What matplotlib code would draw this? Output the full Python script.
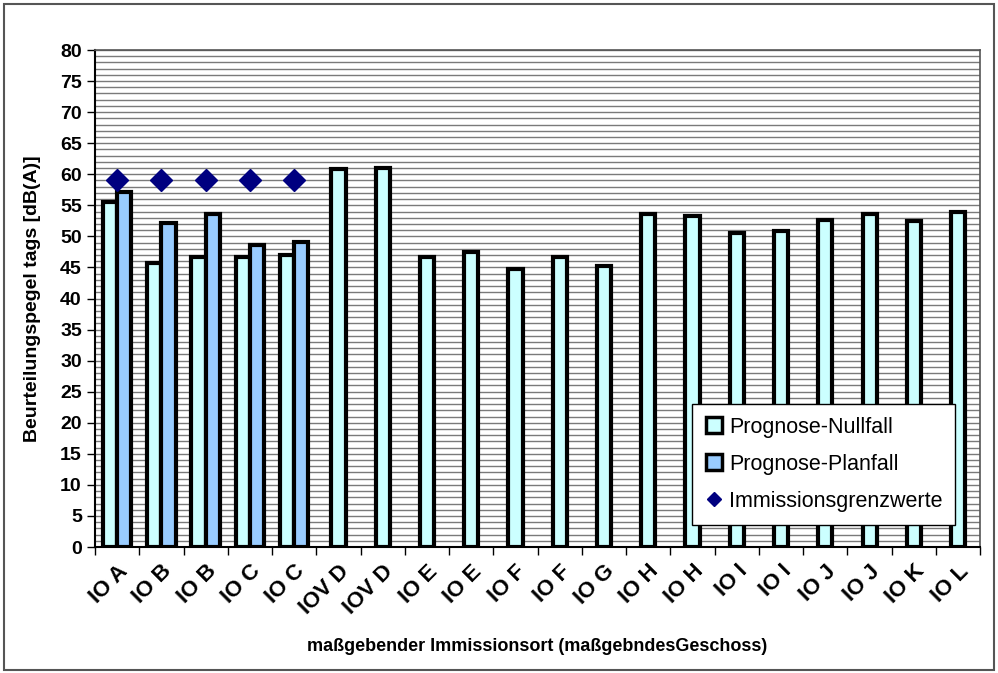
import numpy as np
import matplotlib.pyplot as plt
from matplotlib.patches import Rectangle
from matplotlib.lines import Line2D

plt.rcParams['font.family'] = ['Liberation Sans', 'DejaVu Sans']

# Categories (Immissionsorte)
orte = ['IO A', 'IO B', 'IO B', 'IO C', 'IO C', 'IOV D', 'IOV D', 'IO E', 'IO E',
        'IO F', 'IO F', 'IO G', 'IO H', 'IO H', 'IO I', 'IO I', 'IO J', 'IO J',
        'IO K', 'IO L']

# Prognose-Nullfall (all locations)
nullfall = [55.5, 45.7, 46.7, 46.7, 47.0, 60.8, 61.0, 46.7, 47.5,
            44.8, 46.7, 45.3, 53.6, 53.3, 50.6, 50.9, 52.7, 53.6, 52.4, 54.0]
# Prognose-Planfall (first five locations only)
planfall = [57.2, 52.2, 53.6, 48.6, 49.1]
# Immissionsgrenzwerte (first five locations only)
grenzwerte = [59, 59, 59, 59, 59]

c_null = '#CCFFFF'
c_plan = '#99CCFF'
c_limit = '#000080'

fig = plt.figure(figsize=(9.98, 6.73), dpi=100)
ax = fig.add_axes([0.0952, 0.1872, 0.887, 0.7385])

x = np.arange(len(orte))
w = 0.32
n_plan = len(planfall)

# Nullfall bars: shifted left where a Planfall bar exists, centred otherwise
x_null = np.where(x < n_plan, x - w / 2, x)
ax.bar(x_null, nullfall, width=w, color=c_null, edgecolor='black', linewidth=3, zorder=3)
ax.bar(x[:n_plan] + w / 2, planfall, width=w, color=c_plan, edgecolor='black', linewidth=3, zorder=3)
ax.plot(x[:n_plan], grenzwerte, 'D', color=c_limit, markersize=11, linestyle='none', zorder=4)

# Axes and grid
ax.set_xlim(-0.5, len(orte) - 0.5)
ax.set_ylim(0, 80)
ax.set_yticks(np.arange(0, 81, 5))
ax.set_yticks(np.arange(0, 81, 1), minor=True)
ax.grid(True, axis='y', which='both', color='#7a7a7a', linewidth=1.0, zorder=0)
ax.tick_params(axis='y', which='minor', length=0)
ax.tick_params(axis='y', which='major', length=6, width=1, labelsize=14)
for t in ax.get_yticklabels():
    t.set_fontweight('bold')

# x ticks at category boundaries, labels centered under each category
ax.set_xticks(np.arange(-0.5, len(orte), 1))
ax.set_xticklabels([])
ax.tick_params(axis='x', which='major', length=6, width=1, direction='out')
ax.set_xticks(x, minor=True)
ax.set_xticklabels(orte, minor=True, rotation=45, ha='right', rotation_mode='anchor',
                   fontsize=16, fontweight='bold')
ax.tick_params(axis='x', which='minor', length=0, pad=10)

for s in ['left', 'bottom']:
    ax.spines[s].set_color('black')
    ax.spines[s].set_linewidth(1.5)
for s in ['top', 'right']:
    ax.spines[s].set_color('#555555')
    ax.spines[s].set_linewidth(1.2)

ax.set_ylabel('Beurteilungspegel tags [dB(A)]', fontsize=14, fontweight='bold', labelpad=14)
ax.set_xlabel('maßgebender Immissionsort (maßgebndesGeschoss)', fontsize=13,
              fontweight='bold', labelpad=14)

# Legend
handles = [
    Line2D([], [], marker='s', color='none', markerfacecolor=c_null, markeredgecolor='black',
           markeredgewidth=2.5, markersize=11),
    Line2D([], [], marker='s', color='none', markerfacecolor=c_plan, markeredgecolor='black',
           markeredgewidth=2.5, markersize=11),
    Line2D([], [], marker='D', color='none', markerfacecolor=c_limit, markeredgecolor=c_limit,
           markersize=7),
]
leg = ax.legend(handles, ['Prognose-Nullfall', 'Prognose-Planfall', 'Immissionsgrenzwerte'],
                loc='upper right', bbox_to_anchor=(0.984, 0.31), fontsize=15.5,
                frameon=True, fancybox=False, edgecolor='black', framealpha=1,
                handlelength=0.8, handletextpad=0.3, labelspacing=0.75, borderpad=0.6)
leg.get_frame().set_linewidth(1.0)
leg.set_zorder(5)

# Outer border of the chart
fig.patches.append(Rectangle((0.004, 0.004), 0.992, 0.990, transform=fig.transFigure,
                             fill=False, edgecolor='#555555', linewidth=1.5))

fig.savefig('out.png', dpi=100)
plt.close(fig)
